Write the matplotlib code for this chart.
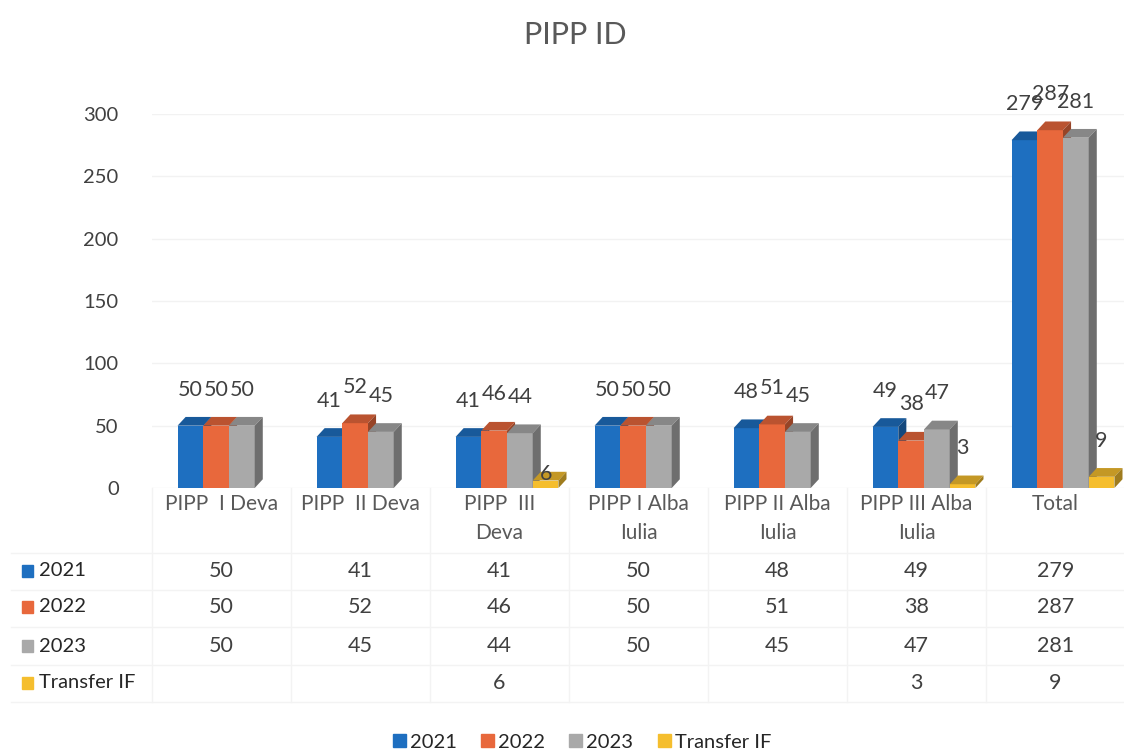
import numpy as np
import matplotlib.pyplot as plt
import matplotlib.colors as mcolors
import matplotlib.transforms as mtransforms
from matplotlib.patches import Polygon, Rectangle

plt.rcParams['font.family'] = ['Lato', 'DejaVu Sans']

# data
categories = ["PIPP  I Deva", "PIPP  II Deva", "PIPP  III\nDeva", "PIPP I Alba\nIulia",
              "PIPP II Alba\nIulia", "PIPP III Alba\nIulia", "Total"]
series = ["2021", "2022", "2023", "Transfer IF"]
v2021 = [50, 41, 41, 50, 48, 49, 279]
v2022 = [50, 52, 46, 50, 51, 38, 287]
v2023 = [50, 45, 44, 50, 45, 47, 281]
transfer = [None, None, 6, None, None, 3, 9]
values = [v2021, v2022, v2023, transfer]

colors = ['#1E6FC0', '#E8683C', '#A9A9A9', '#F5BE2E']
text_col = '#404040'

W, H = 1124, 755
fig = plt.figure(figsize=(W / 100, H / 100), dpi=100)
ax = fig.add_axes([152 / W, 1 - 488 / H, 973 / W, 374 / H])
ax.set_xlim(-0.5, 6.5)
ax.set_ylim(0, 300)
for s in ax.spines.values():
    s.set_visible(False)
ax.set_yticks(range(0, 301, 50))
ax.tick_params(axis='y', length=0, pad=24, labelsize=14.5, labelcolor=text_col)
ax.set_xticks([])
ax.grid(axis='y', color='#F2F2F2', lw=1)
ax.set_axisbelow(True)


def darker(c, f):
    r, g, b = mcolors.to_rgb(c)
    return (r * f, g * f, b * f)


# 3D-looking bars
w = 0.185
dx, dy = 0.058, 7
shift = 0.054
label_nudge = {(3, 2): -24}
for k, vals in enumerate(values):
    for i, v in enumerate(vals):
        if v is None:
            continue
        x0 = i + shift - 2 * w + k * w
        z = 2 + k
        ax.bar(x0, v, width=w, align='edge', color=colors[k], zorder=z, lw=0)
        top = [(x0, v), (x0 + dx, v + dy), (x0 + w + dx, v + dy), (x0 + w, v)]
        sid = [(x0 + w, 0), (x0 + w + dx, dy), (x0 + w + dx, v + dy), (x0 + w, v)]
        ax.add_patch(Polygon(top, closed=True, color=darker(colors[k], 0.8), zorder=z, lw=0))
        ax.add_patch(Polygon(sid, closed=True, color=darker(colors[k], 0.65), zorder=z, lw=0))
        ly = v + 29 + label_nudge.get((k, i), 0)
        ax.text(x0 + w / 2, ly, str(v), ha='center', va='center', fontsize=15.5,
                color=text_col, zorder=10, clip_on=False)

# category labels
trans = mtransforms.blended_transform_factory(ax.transData, fig.transFigure)
for i, c in enumerate(categories):
    ax.text(i, 1 - 494 / H, c, transform=trans, ha='center', va='top', fontsize=15,
            color='#595959', linespacing=1.55)

# data table
row_y = [571, 607, 646, 683]
grid_c = '#F3F3F3'
for i in range(len(categories) + 1):
    ax.plot([i - 0.5, i - 0.5], [1 - 488 / H, 1 - 702 / H], transform=trans,
            color=grid_c, lw=1, clip_on=False)
for y in [553, 590, 627, 665, 702]:
    fig.add_artist(plt.Line2D([0.01, 1], [1 - y / H] * 2, color=grid_c, lw=1))
for k, vals in enumerate(values):
    fy = 1 - row_y[k] / H
    fig.add_artist(Rectangle((22 / W, fy - 6 / H), 11 / W, 12 / H, color=colors[k],
                             transform=fig.transFigure))
    fig.text(39 / W, fy, series[k], ha='left', va='center', fontsize=14.5, color='#262626')
    for i, v in enumerate(vals):
        if v is None:
            continue
        ax.text(i, fy, str(v), transform=trans, ha='center', va='center', fontsize=15.5,
                color=text_col)

# legend
handles = [Rectangle((0, 0), 1, 1, color=c) for c in colors]
fig.legend(handles, series, loc='center', bbox_to_anchor=(582 / W, 1 - 742 / H), ncol=4,
           frameon=False, fontsize=14.5, handlelength=0.65, handleheight=0.65,
           handletextpad=0.2, columnspacing=1.2, labelcolor='#262626')

fig.text(575 / W, 1 - 35 / H, "PIPP ID", ha='center', va='center', fontsize=22,
         color='#595959')

fig.savefig('out.png', dpi=100)
